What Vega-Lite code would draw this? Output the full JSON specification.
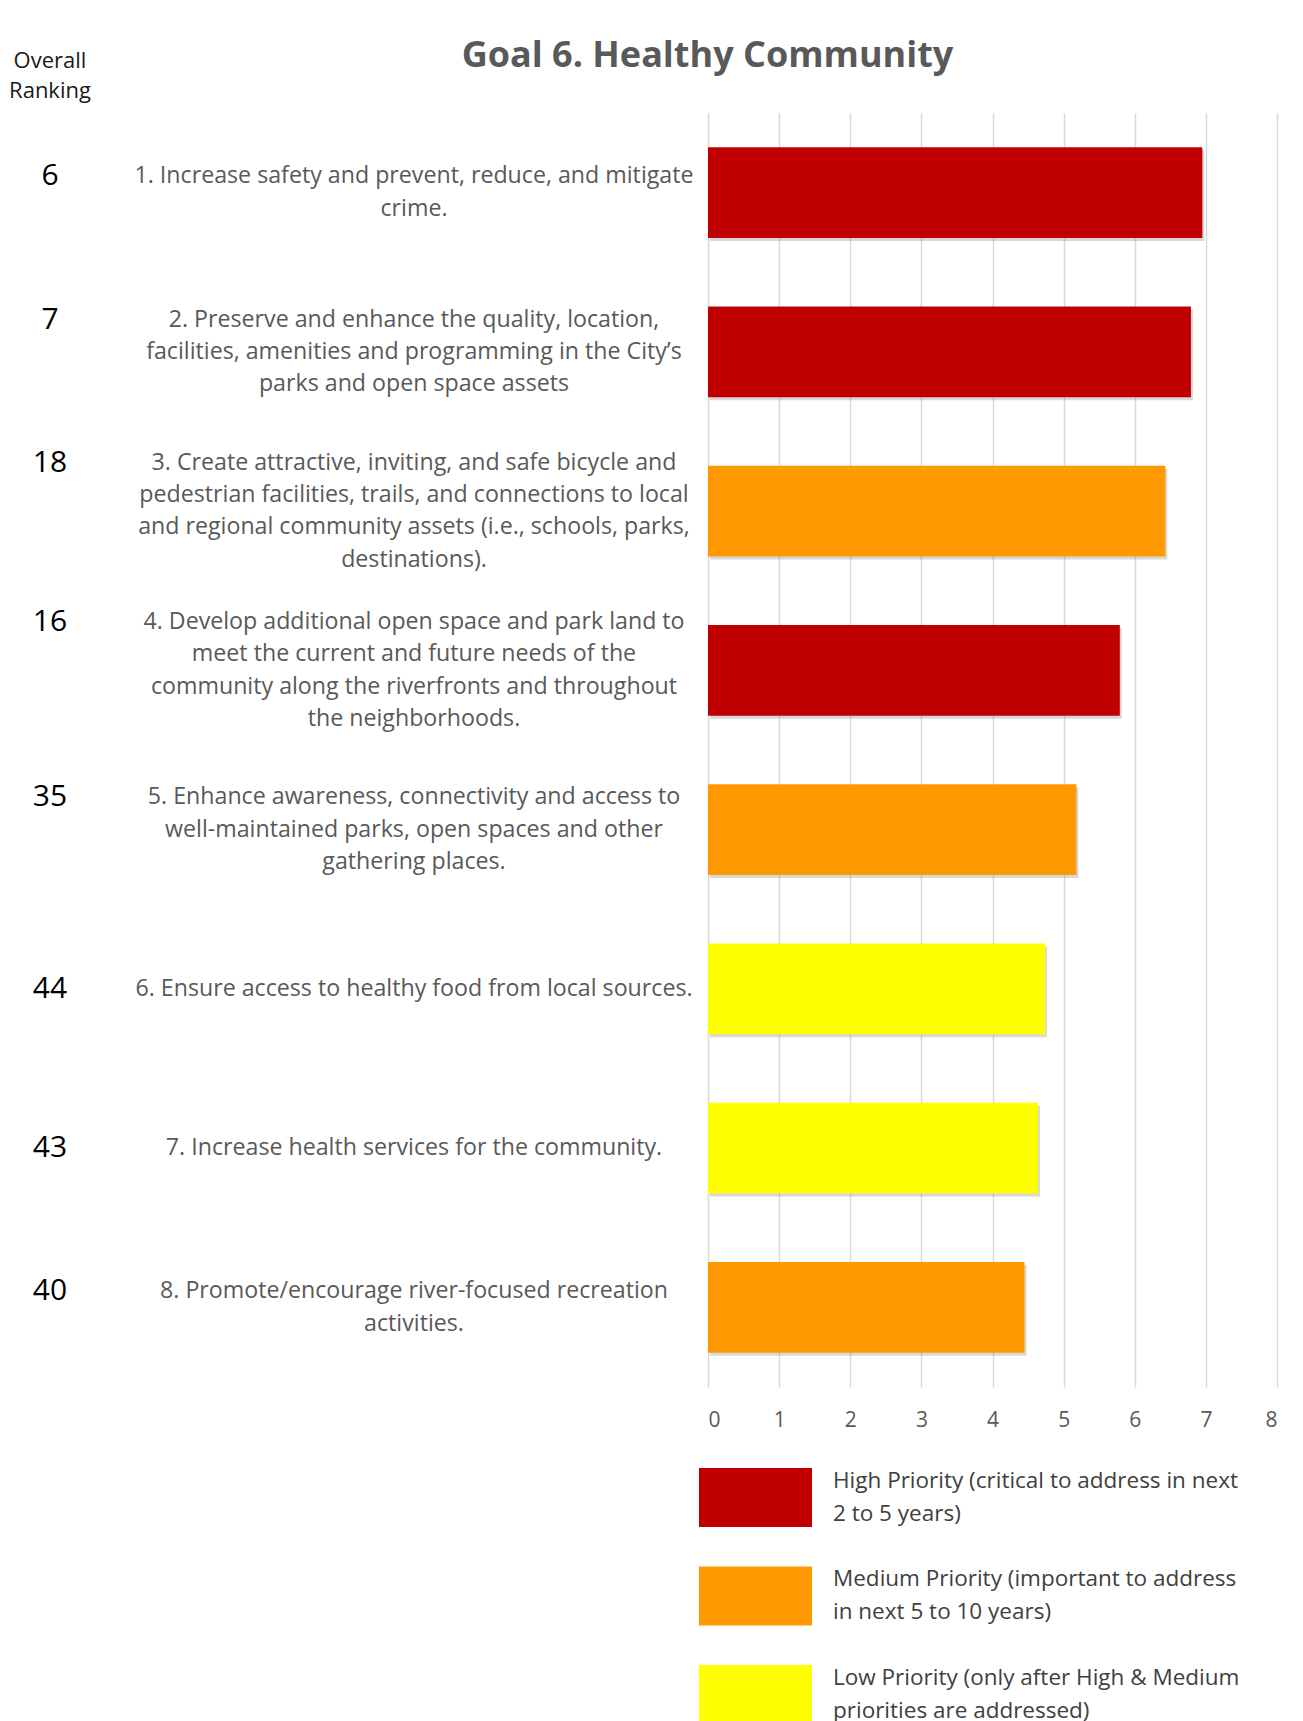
{
  "$schema": "https://vega.github.io/schema/vega-lite/v6.json",
  "background": "white",
  "padding": {"left": 8, "top": 38, "right": 20, "bottom": 0},
  "bounds": "flush",
  "spacing": 38,
  "resolve": {"scale": {"y": "independent", "yOffset": "independent"}},
  "config": {
    "font": "Open Sans",
    "view": {"stroke": null},
    "style": {"guide-label": {"lineHeight": 33}}
  },
  "data": {
    "values": [
      {"rank": 6, "item": "1. Increase safety and prevent, reduce, and mitigate|crime.", "lines": 2, "score": 6.95, "priority": "High Priority (critical to address in next|2 to 5 years)"},
      {"rank": 7, "item": "2. Preserve and enhance the quality, location,|facilities, amenities and programming in the City’s|parks and open space assets", "lines": 3, "score": 6.79, "priority": "High Priority (critical to address in next|2 to 5 years)"},
      {"rank": 18, "item": "3. Create attractive, inviting, and safe bicycle and|pedestrian facilities, trails, and connections to local|and regional community assets (i.e., schools, parks,|destinations).", "lines": 4, "score": 6.43, "priority": "Medium Priority (important to address|in next 5 to 10 years)"},
      {"rank": 16, "item": "4. Develop additional open space and park land to|meet the current and future needs of the|community along the riverfronts and throughout|the neighborhoods.", "lines": 4, "score": 5.79, "priority": "High Priority (critical to address in next|2 to 5 years)"},
      {"rank": 35, "item": "5. Enhance awareness, connectivity and access to|well-maintained parks, open spaces and other|gathering places.", "lines": 3, "score": 5.18, "priority": "Medium Priority (important to address|in next 5 to 10 years)"},
      {"rank": 44, "item": "6. Ensure access to healthy food from local sources.", "lines": 1, "score": 4.74, "priority": "Low Priority (only after High & Medium|priorities are addressed)"},
      {"rank": 43, "item": "7. Increase health services for the community.", "lines": 1, "score": 4.64, "priority": "Low Priority (only after High & Medium|priorities are addressed)"},
      {"rank": 40, "item": "8. Promote/encourage river-focused recreation|activities.", "lines": 2, "score": 4.45, "priority": "Medium Priority (important to address|in next 5 to 10 years)"}
    ]
  },
  "hconcat": [
    {
      "width": 84,
      "height": 1274,
      "title": {"text": ["Overall", "Ranking"], "fontSize": 22, "fontWeight": "normal", "color": "#1a1a1a", "lineHeight": 30, "offset": 10, "anchor": "middle"},
      "mark": {"type": "text", "fontSize": 30, "color": "#000000", "align": "center", "baseline": "middle"},
      "encoding": {
        "y": {"field": "item", "type": "nominal", "sort": null, "axis": null, "scale": {"paddingInner": 0.43, "paddingOuter": 0.215}},
        "yOffset": {"field": "lines", "type": "quantitative", "scale": {"domain": [1, 4], "range": [45.4, -3.05]}},
        "text": {"field": "rank", "type": "nominal"}
      }
    },
    {
      "bounds": "flush",
      "spacing": 10,
      "resolve": {"scale": {"y": "independent", "yOffset": "independent"}},
      "hconcat": [
        {
          "width": 568,
          "height": 1274,
          "mark": {"type": "text", "fontSize": 23.2, "color": "#595959", "align": "center", "baseline": "middle", "lineBreak": "|", "lineHeight": 32.3},
          "encoding": {
            "y": {"field": "item", "type": "nominal", "sort": null, "axis": null, "scale": {"paddingInner": 0.43, "paddingOuter": 0.215}},
            "yOffset": {"field": "lines", "type": "quantitative", "scale": {"domain": [1, 4], "range": [45.4, -3.05]}},
            "text": {"field": "item", "type": "nominal"}
          }
        },
        {
          "width": 569,
          "height": 1274,
          "title": {"text": "Goal 6.  Healthy Community", "fontSize": 36, "fontWeight": "bold", "color": "#595959", "anchor": "middle", "frame": "group", "dx": -285, "offset": 38},
          "encoding": {
            "y": {
              "field": "item", "type": "nominal", "sort": null, "axis": null,
              "scale": {"paddingInner": 0.43, "paddingOuter": 0.215}
            },
            "x": {
              "field": "score", "type": "quantitative",
              "scale": {"domain": [0, 8], "nice": false},
              "axis": {"title": null, "values": [0, 1, 2, 3, 4, 5, 6, 7, 8], "grid": true, "gridColor": "#d9d9d9", "gridWidth": 1.5, "domain": false, "ticks": false, "labelPadding": 22, "labelFontSize": 21, "labelColor": "#595959"}
            }
          },
          "layer": [
            {
              "mark": {"type": "bar", "color": "#808080", "opacity": 0.3, "xOffset": 2, "yOffset": 3}
            },
            {
              "mark": {"type": "bar"},
              "encoding": {
                "color": {
                  "field": "priority", "type": "nominal",
                  "scale": {"domain": ["High Priority (critical to address in next|2 to 5 years)", "Medium Priority (important to address|in next 5 to 10 years)", "Low Priority (only after High & Medium|priorities are addressed)"], "range": ["#C00000", "#FF9900", "#FFFF00"]},
                  "legend": {"orient": "none", "legendX": 691, "legendY": 1328, "title": null, "direction": "vertical", "padding": 0, "symbolType": "M-1,-0.522H1V0.522H-1Z", "symbolSize": 12769, "symbolStrokeWidth": 0, "symbolOpacity": 1, "labelFontSize": 22.5, "labelColor": "#404040", "labelBaseline": "line-bottom", "labelExpr": "split(datum.label, '|')", "labelOffset": 21, "rowPadding": 12.5, "labelLimit": 0}
                }
              }
            }
          ]
        }
      ]
    }
  ]
}
